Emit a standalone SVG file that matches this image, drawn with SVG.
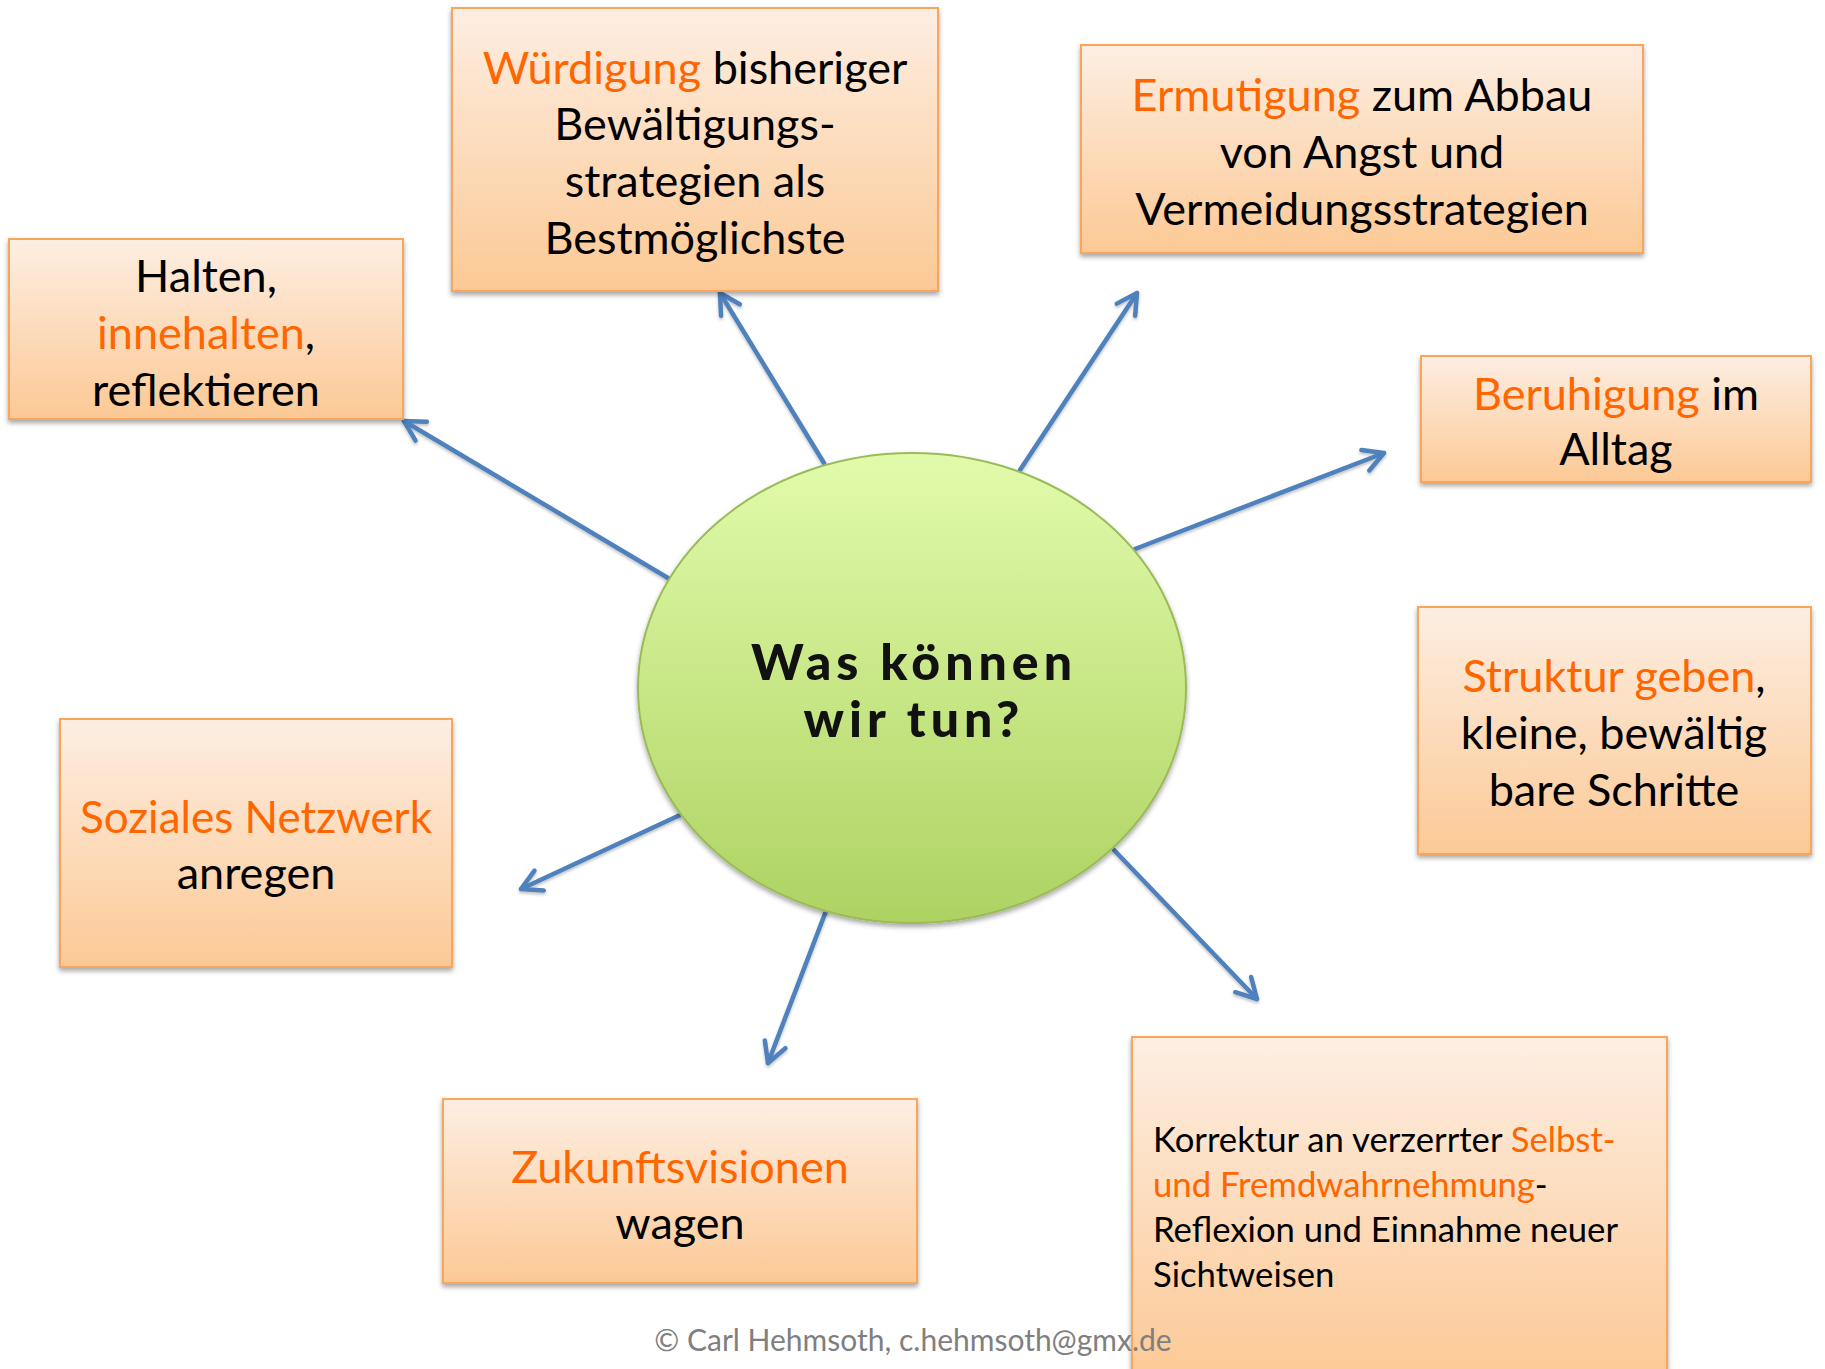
<svg xmlns="http://www.w3.org/2000/svg" width="1825" height="1369" viewBox="0 0 1825 1369">
<defs>
<linearGradient id="gBox" x1="0" y1="0" x2="0" y2="1">
<stop offset="0" stop-color="#FDEEE2"/>
<stop offset="1" stop-color="#FCC995"/>
</linearGradient>
<linearGradient id="gEll" x1="0" y1="0" x2="0" y2="1">
<stop offset="0" stop-color="#E2FBAB"/>
<stop offset="1" stop-color="#AED262"/>
</linearGradient>
<filter id="sh" x="-10%" y="-10%" width="120%" height="125%">
<feDropShadow dx="0" dy="3" stdDeviation="2.5" flood-color="#000" flood-opacity="0.35"/>
</filter>
<filter id="shl" x="-20%" y="-20%" width="140%" height="140%">
<feDropShadow dx="0" dy="2" stdDeviation="1.5" flood-color="#000" flood-opacity="0.25"/>
</filter>
<marker id="ah" markerUnits="userSpaceOnUse" viewBox="-26 -16 32 32" refX="0" refY="0" markerWidth="32" markerHeight="32" orient="auto">
<path d="M-20,-11 L0,0 L-20,11" fill="none" stroke="#4F81BD" stroke-width="4.5" stroke-linecap="round" stroke-linejoin="round"/>
</marker>
</defs>
<style>
.box{fill:url(#gBox);stroke:#F9A65A;stroke-width:2;filter:url(#sh)}
.t{font-family:Lato,"Liberation Sans",sans-serif;font-size:45px;fill:#000;text-anchor:middle}
.s{font-family:Lato,"Liberation Sans",sans-serif;font-size:34.7px;fill:#000}
.o{fill:#FF6600}
.c{stroke:#4F81BD;stroke-width:4.5;fill:none;stroke-linecap:round;marker-end:url(#ah);filter:url(#shl)}
.cp{font-family:Lato,"Liberation Sans",sans-serif;font-size:30px;fill:#7F7F7F;text-anchor:middle}
.center{font-family:Lato,"Liberation Sans",sans-serif;font-weight:900;font-size:50px;letter-spacing:5px;fill:#111;text-anchor:middle}
</style>
<rect width="1825" height="1369" fill="#fff"/>
<g id="connectors">
<line class="c" x1="668" y1="578" x2="404" y2="421"/>
<line class="c" x1="824" y1="463" x2="720" y2="293"/>
<line class="c" x1="1020" y1="470" x2="1137" y2="293"/>
<line class="c" x1="1135" y1="549" x2="1384" y2="453"/>
<line class="c" x1="1184" y1="719" x2="1384" y2="719"/>
<line class="c" x1="1114" y1="850" x2="1257" y2="999"/>
<line class="c" x1="826" y1="911" x2="768" y2="1063"/>
<line class="c" x1="680" y1="815" x2="521" y2="889"/>
</g>
<g id="center">
<ellipse cx="912" cy="688" rx="274" ry="235" fill="url(#gEll)" stroke="#9BBB59" stroke-width="2" filter="url(#sh)"/>
<text class="center" x="914" y="680">Was können</text>
<text class="center" x="914" y="737">wir tun?</text>
</g>
<g id="wuerdigung">
<rect class="box" x="452" y="8" width="486" height="283"/>
<text class="t" x="695" y="84"><tspan class="o">Würdigung</tspan> bisheriger</text>
<text class="t" x="695" y="140">Bewältigungs-</text>
<text class="t" x="695" y="197">strategien als</text>
<text class="t" x="695" y="254">Bestmöglichste</text>
</g>
<g id="ermutigung">
<rect class="box" x="1081" y="45" width="562" height="208"/>
<text class="t" x="1362" y="111"><tspan class="o">Ermutigung</tspan> zum Abbau</text>
<text class="t" x="1362" y="168">von Angst und</text>
<text class="t" x="1362" y="225">Vermeidungsstrategien</text>
</g>
<g id="halten">
<rect class="box" x="9" y="239" width="394" height="180"/>
<text class="t" x="206" y="292">Halten,</text>
<text class="t" x="206" y="349"><tspan class="o">innehalten</tspan>,</text>
<text class="t" x="206" y="406">reflektieren</text>
</g>
<g id="beruhigung">
<rect class="box" x="1421" y="356" width="390" height="126"/>
<text class="t" x="1616" y="410"><tspan class="o">Beruhigung</tspan> im</text>
<text class="t" x="1616" y="465">Alltag</text>
</g>
<g id="struktur">
<rect class="box" x="1418" y="607" width="393" height="247"/>
<text class="t" x="1614" y="692"><tspan class="o">Struktur geben</tspan>,</text>
<text class="t" x="1614" y="749">kleine, bewältig</text>
<text class="t" x="1614" y="806">bare Schritte</text>
</g>
<g id="soziales">
<rect class="box" x="60" y="719" width="392" height="248"/>
<text class="t" x="256" y="833" style="font-size:44px"><tspan class="o">Soziales Netzwerk</tspan></text>
<text class="t" x="256" y="889">anregen</text>
</g>
<g id="zukunft">
<rect class="box" x="443" y="1099" width="474" height="184"/>
<text class="t" x="680" y="1183"><tspan class="o">Zukunftsvisionen</tspan></text>
<text class="t" x="680" y="1239">wagen</text>
</g>
<g id="korrektur">
<rect class="box" x="1132" y="1037" width="535" height="345"/>
<text class="s" x="1153" y="1152">Korrektur an verzerrter <tspan class="o">Selbst-</tspan></text>
<text class="s" x="1153" y="1197"><tspan class="o">und Fremdwahrnehmung</tspan>-</text>
<text class="s" x="1153" y="1242">Reflexion und Einnahme neuer</text>
<text class="s" x="1153" y="1287">Sichtweisen</text>
</g>
<g id="copyright">
<text class="cp" x="913" y="1351">© Carl Hehmsoth, c.hehmsoth@gmx.de</text>
</g>
</svg>
